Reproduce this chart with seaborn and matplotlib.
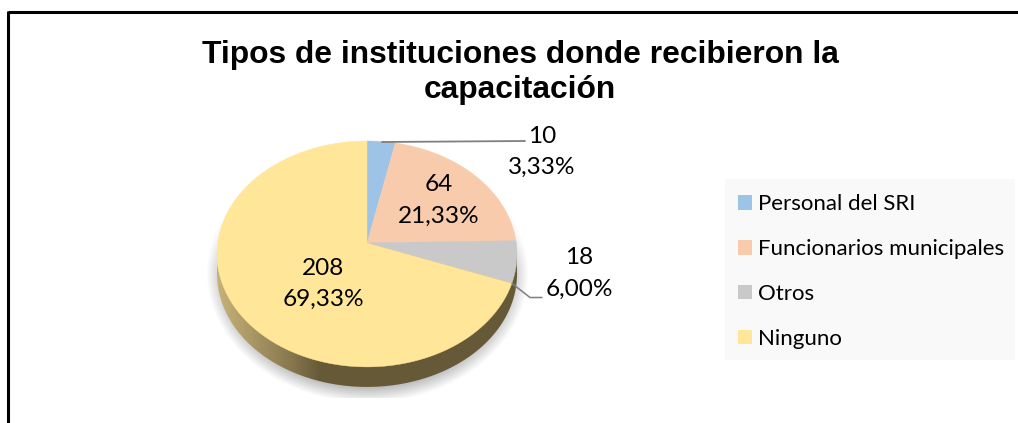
import numpy as np
import matplotlib
matplotlib.use("Agg")
import matplotlib.pyplot as plt
import seaborn as sns
from matplotlib.patches import PathPatch, Polygon, Rectangle
from matplotlib.path import Path
from matplotlib.transforms import Affine2D

categorias = ["Personal del SRI", "Funcionarios municipales", "Otros", "Ninguno"]
valores = [10, 64, 18, 208]
colores = ["#9dc3e6", "#f8cbad", "#c9c9c9", "#ffe699"]
titulo = "Tipos de instituciones donde recibieron la\ncapacitación"

sns.set_theme(style="white")
plt.rcParams["font.family"] = ["Lato", "DejaVu Sans"]
paleta = sns.color_palette(colores)

W, H = 1018, 423
fig = plt.figure(figsize=(W / 100, H / 100), dpi=100)
ax = fig.add_axes([0, 0, 1, 1])

# vista en perspectiva del circulo unitario, en pixeles
CX, CY = 367, 243
A, B, K = 111.9, 149.3, 0.097


def perspectiva(xy):
    d = 1 + K * xy[:, 1]
    return np.column_stack([CX + B * xy[:, 0] / d, CY - A * xy[:, 1] / d])


wedges, _ = ax.pie(valores, colors=paleta, startangle=90, counterclock=False, radius=1)

caras = []
escala = 1000
for w in wedges:
    poly = w.get_path().to_polygons(Affine2D().scale(escala), closed_only=False)[0] / escala
    caras.append((perspectiva(poly), w.get_facecolor()))
    w.remove()

ax.set_aspect("auto")
ax.set_xlim(0, W)
ax.set_ylim(H, 0)
ax.axis("off")

# sombra
xx, yy = np.meshgrid(np.arange(W), np.arange(H))
d = np.sqrt(((xx - 367) / 161) ** 2 + ((yy - 272) / 130) ** 2)
alfa = 0.6 * np.clip((1 - d) / 0.12, 0, 1) * np.clip((yy - 205) / 65, 0, 1)
alfa[yy > 397] = 0
sombra = np.zeros((H, W, 4))
sombra[..., :3] = 0.55
sombra[..., 3] = alfa
ax.imshow(sombra, extent=(0, W, H, 0), aspect="auto", zorder=1, interpolation="bilinear")

# pared lateral
t = np.linspace(np.pi * 1.0, np.pi * 2.0, 200)
borde = perspectiva(np.column_stack([np.cos(t - 0.097), np.sin(t - 0.097)]))
abajo = borde + [0, 20]
pared = np.vstack([borde[0], abajo, borde[-1], [CX, CY]])
grad = np.interp(np.linspace(217, 517, 300), [217, 245, 290, 320, 517], [0, 0.25, 0.65, 1, 1])
c1, c2 = np.array([0.78, 0.70, 0.47]), np.array([0.40, 0.35, 0.22])
img = (c1[None, :] * (1 - grad[:, None]) + c2[None, :] * grad[:, None])[None, :, :]
im = ax.imshow(img, extent=(217, 517, 400, 240), aspect="auto", zorder=2)
im.set_clip_path(Polygon(pared, closed=True, transform=ax.transData))

for poly, color in caras:
    ax.add_patch(PathPatch(Path(poly), facecolor=color, edgecolor=color, lw=0.3, zorder=3))

ax.set_xlim(0, W)
ax.set_ylim(H, 0)

# lineas guia
ax.plot([382, 525], [142, 141], color="#7f7f7f", lw=1.3, zorder=4)
ax.plot([512, 530, 542], [283.5, 297.5, 297.5], color="#7f7f7f", lw=1.1, zorder=4)

# etiquetas
total = sum(valores)
pos_etiquetas = [(542, 152), (439, 200.5), (579, 273.5), (323, 284)]
for v, (x, y) in zip(valores, pos_etiquetas):
    txt = f"{v}\n{v / total * 100:.2f}%".replace(".", ",")
    ax.text(x, y, txt, ha="center", va="center", fontsize=17.6, color="black",
            linespacing=1.6, zorder=5)

ax.text(520, 72.5, titulo, ha="center", va="center", fontsize=22.9, fontweight="bold",
        family=["Liberation Sans"], color="black", linespacing=1.2, zorder=5)

# leyenda
ax.add_patch(Rectangle((725, 179), 290, 181, facecolor="#f9f9f9", edgecolor="none", zorder=1))
manijas = [Rectangle((0, 0), 1, 1, facecolor=c, edgecolor="none") for c in paleta]
ax.legend(manijas, categorias, frameon=False, loc="center left",
          bbox_to_anchor=(738, 271.5), bbox_transform=ax.transData,
          fontsize=16, handlelength=0.63, handleheight=0.63, handletextpad=0.27,
          labelspacing=1.12, borderpad=0, borderaxespad=0, labelcolor="black")

# marco de la pagina: solo arriba e izquierda
ax.plot([8.5, W], [12.5, 12.5], color="black", lw=2.2, solid_capstyle="butt", zorder=6)
ax.plot([8.5, 8.5], [11.5, H], color="black", lw=2.2, solid_capstyle="butt", zorder=6)

fig.savefig("out.png", dpi=100, facecolor="white")
